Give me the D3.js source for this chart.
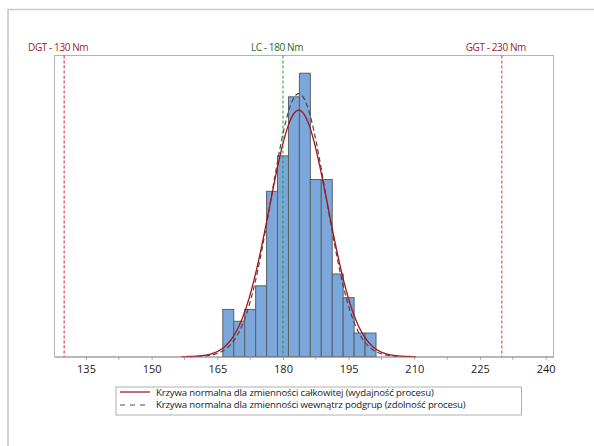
<!DOCTYPE html>
<html><head><meta charset="utf-8">
<script src="https://cdn.jsdelivr.net/npm/d3@7"></script>
<style>html,body{margin:0;padding:0;background:#fff;}svg{display:block;font-family:"Open Sans","Noto Sans",sans-serif;}</style>
</head><body><div id="chart"></div>
<script>
// ---- data ----
const binCenters = [167.5,170,172.5,175,177.5,180,182.5,185,187.5,190,192.5,195,197.5,200];
const counts     = [4,3,4,6,14,17,22,24,15,15,7,5,2,2];
const binWidth = 2.5;
const xTicks = [135,150,165,180,195,210,225,240];
const xMinorTicks = [142.5,157.5,172.5,187.5,202.5,217.5,232.5];
const specNames  = ["DGT - 130 Nm","LC - 180 Nm","GGT - 230 Nm"];
const specValues = [130,180,230];
const mean = 183.6;
const sigmaOverall = 6.69;
const sigmaWithin  = 6.27;
const legendLabels = ["Krzywa normalna dla zmienności całkowitej (wydajność procesu)",
                      "Krzywa normalna dla zmienności wewnątrz podgrup (zdolność procesu)"];

const W=594,H=446;
const svg=d3.select("#chart").append("svg").attr("width",W).attr("height",H);
const L=54.5,R=553.5,T=55.5,B=356.7;
const x=d3.scaleLinear().domain([127.8,241.8]).range([L,R]);
const y=d3.scaleLinear().domain([0,25.5]).range([B,T]);

// outer frame
svg.append("path").attr("d",`M8,${H}V9.5H${W}`).attr("fill","none").attr("stroke","#cacaca").attr("stroke-width",1.6);

// plot frame
svg.append("rect").attr("x",L).attr("y",T).attr("width",R-L).attr("height",B-T)
  .attr("fill","none").attr("stroke","#b4b4b4").attr("stroke-width",1);

// bars
svg.append("g").selectAll("rect").data(binCenters).join("rect")
  .attr("x",d=>x(d-binWidth/2)).attr("width",d=>x(d+binWidth/2)-x(d-binWidth/2))
  .attr("y",(d,i)=>y(counts[i])).attr("height",(d,i)=>y(0)-y(counts[i]))
  .attr("fill","#7ba7da").attr("stroke","#5a5f66").attr("stroke-width",1);

// normal curves
const N=d3.sum(counts);
function curve(sig){
  const pts=d3.range(0,401).map(i=>{const v=mean-4*sig+i*8*sig/400;
    return [v,N*binWidth/(sig*Math.sqrt(2*Math.PI))*Math.exp(-0.5*((v-mean)/sig)**2)];});
  return d3.line().x(d=>x(d[0])).y(d=>y(d[1]))(pts);
}
svg.append("path").attr("d",curve(sigmaWithin)).attr("fill","none")
  .attr("stroke","#4a4a4a").attr("stroke-width",1.2).attr("stroke-dasharray","5,3");
svg.append("path").attr("d",curve(sigmaOverall)).attr("fill","none")
  .attr("stroke","#a3151d").attr("stroke-width",1.3);

// spec lines
const lineCols=["#d4202a","#16a028","#e0303a"];
const textCols=["#9c1e24","#1f6b2c","#9c1e24"];
specValues.forEach((v,i)=>{
  svg.append("line").attr("x1",x(v)).attr("x2",x(v)).attr("y1",T).attr("y2",B)
    .attr("stroke",lineCols[i]).attr("stroke-width",1).attr("stroke-dasharray","3,2");
  svg.append("text").attr("x",x(v)-6).attr("y",51).attr("text-anchor","middle")
    .attr("font-size",10).attr("letter-spacing",-0.4).attr("fill",textCols[i]).text(specNames[i]);
});

// x axis
const axis=d3.axisBottom(x).tickValues(xTicks).tickSize(3).tickSizeOuter(0);
const gx=svg.append("g").attr("transform",`translate(0,${B})`).call(axis);
gx.select(".domain").attr("stroke","#a0a0a0");
gx.selectAll(".tick line").attr("stroke","#a0a0a0");
gx.selectAll(".tick text").attr("font-size",11).attr("fill","#1a1a1a").attr("dy","0.9em")
  .attr("font-family","'Open Sans','Noto Sans',sans-serif");
svg.append("g").selectAll("line").data(xMinorTicks).join("line")
  .attr("x1",d=>x(d)).attr("x2",d=>x(d)).attr("y1",B).attr("y2",B+3).attr("stroke","#a0a0a0");

// legend
const lg=svg.append("g");
lg.append("rect").attr("x",116).attr("y",387).attr("width",405.5).attr("height",28)
  .attr("fill","#fff").attr("stroke","#b0b0b0").attr("stroke-width",1);
lg.append("line").attr("x1",120).attr("x2",150).attr("y1",392).attr("y2",392)
  .attr("stroke","#b84b50").attr("stroke-width",1.6);
lg.append("line").attr("x1",120).attr("x2",150).attr("y1",405).attr("y2",405)
  .attr("stroke","#4a4a4a").attr("stroke-width",1.2).attr("stroke-dasharray","5,5");
legendLabels.forEach((t,i)=>{
  lg.append("text").attr("x",156).attr("y",395.5+i*12.8).attr("font-size",9.6)
    .attr("letter-spacing",-0.15).attr("fill","#1a1a1a").text(t);
});
</script></body></html>
